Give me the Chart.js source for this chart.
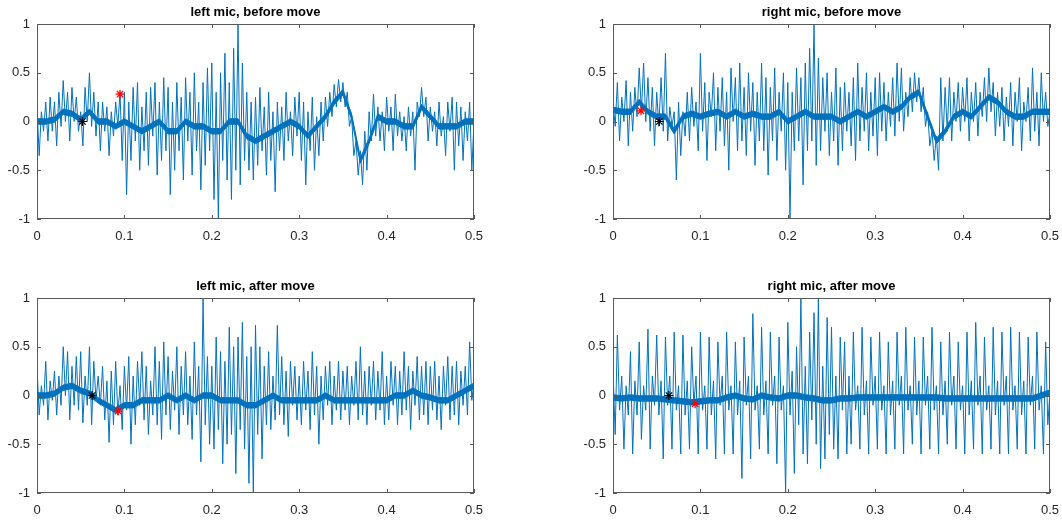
<!DOCTYPE html>
<html lang="en">
<head>
  <meta charset="UTF-8">
  <title>mic signals</title>
  <script src="https://cdn.jsdelivr.net/npm/chart.js"></script>
  <style>
    body {
      margin: 0;
      background: #fff;
      width: 1062px;
      height: 521px;
      position: relative;
      overflow: hidden;
    }
    canvas {
      position: absolute;
    }
  </style>
</head>
<body>

  <canvas id="p1" width="490" height="250" style="left:0px;top:0px"></canvas>
  <canvas id="p2" width="490" height="250" style="left:576px;top:0px"></canvas>
  <canvas id="p3" width="490" height="250" style="left:0px;top:274px"></canvas>
  <canvas id="p4" width="490" height="250" style="left:576px;top:274px"></canvas>

  <script>
    // sample spacing (s) of the signal arrays and of the core-level arrays
    const sampleStep = 0.0025;
    const coreStep = 0.01;
    const coreHalf = 0.028;

    const titles = ['left mic, before move', 'right mic, before move', 'left mic, after move', 'right mic, after move'];
    const xTickValues = [0, 0.1, 0.2, 0.3, 0.4, 0.5];
    const yTickValues = [-1, -0.5, 0, 0.5, 1];

    // [time, value] of the markers
    const blackStars = [[0.052, 0], [0.053, 0], [0.063, 0], [0.064, 0]];
    const redStars = [[0.095, 0.28], [0.032, 0.11], [0.093, -0.16], [0.094, -0.085]];

    const leftBefore = [
      0.15, -0.35, 0.1, -0.1, 0.2, -0.2, 0.25, -0.1, 0.2, -0.25,
      0.3, -0.05, 0.42, 0.0, 0.3, -0.2, 0.35, 0.0, 0.25, -0.1,
      0.1, -0.25, 0.35, 0.0, 0.5, -0.05, 0.3, -0.15, 0.2, -0.3,
      0.2, -0.1, 0.15, -0.35, 0.1, -0.15, 0.2, -0.05, 0.3, -0.4,
      0.3, -0.75, 0.2, -0.4, 0.35, -0.2, 0.4, -0.5, 0.15, -0.3,
      0.3, -0.45, 0.35, -0.15, 0.4, -0.55, 0.2, -0.4, 0.45, -0.3,
      0.35, -0.75, 0.2, -0.5, 0.4, -0.3, 0.25, -0.6, 0.45, -0.2,
      0.3, -0.55, 0.5, -0.3, 0.2, -0.7, 0.4, -0.45, 0.55, -0.3,
      0.6, -0.8, 0.3, -1.0, 0.5, -0.4, 0.7, -0.6, 0.4, -0.8,
      0.75, -0.5, 1.0, -0.65, 0.6, -0.4, 0.3, -0.5, 0.2, -0.6,
      0.25, -0.45, 0.35, -0.3, 0.15, -0.55, 0.3, -0.4, 0.1, -0.72,
      0.2, -0.3, 0.15, -0.4, 0.3, -0.2, 0.1, -0.35, 0.25, -0.15,
      0.3, -0.4, 0.2, -0.65, 0.1, -0.3, 0.25, -0.5, 0.05, -0.35,
      0.2, -0.2, 0.25, -0.05, 0.3, 0.05, 0.38, 0.15, 0.43, 0.2,
      0.4, 0.15, 0.3, -0.05, 0.05, -0.35, -0.2, -0.55, -0.3, -0.65,
      -0.1, -0.5, 0.1, -0.2, 0.28, -0.15, 0.15, -0.2, 0.1, -0.3,
      0.25, -0.1, 0.15, -0.3, 0.28, -0.15, 0.1, -0.2, 0.05, -0.3,
      0.15, -0.15, 0.1, -0.5, 0.2, 0.05, 0.35, 0.05, 0.25, -0.2,
      0.15, -0.1, 0.1, -0.25, 0.2, -0.15, 0.05, -0.35, 0.2, -0.1,
      0.25, -0.5, 0.2, -0.25, 0.15, -0.4, 0.1, -0.2, 0.2, -0.5,
      0.0
    ];
    const rightBefore = [
      0.2, -0.05, 0.4, -0.2, 0.25, 0.0, 0.42, -0.25, 0.3, -0.1,
      0.35, 0.05, 0.55, 0.1, 0.6, 0.0, 0.45, -0.1, 0.35, -0.25,
      0.3, -0.05, 0.45, -0.1, 0.7, -0.2, 0.15, -0.05, 0.1, -0.6,
      0.2, -0.35, 0.1, -0.15, 0.3, -0.2, 0.35, -0.05, 0.2, -0.3,
      0.7, -0.1, 0.4, -0.4, 0.3, 0.05, 0.5, -0.3, 0.35, -0.1,
      0.45, -0.25, 0.3, -0.5, 0.55, 0.0, 0.45, -0.3, 0.6, -0.2,
      0.35, -0.35, 0.5, -0.1, 0.4, -0.45, 0.3, -0.2, 0.6, -0.3,
      0.45, -0.55, 0.35, -0.2, 0.55, -0.4, 0.3, -0.1, 0.5, -0.5,
      0.4, -1.0, 0.3, -0.3, 0.55, -0.2, 0.45, -0.65, 0.6, -0.3,
      0.75, -0.2, 1.0, -0.45, 0.65, -0.3, 0.45, -0.1, 0.5, -0.35,
      0.3, -0.2, 0.55, -0.45, 0.35, -0.3, 0.4, -0.1, 0.3, -0.25,
      0.45, -0.4, 0.6, -0.2, 0.35, -0.1, 0.5, -0.3, 0.3, -0.15,
      0.45, -0.35, 0.5, -0.1, 0.4, -0.2, 0.3, -0.05, 0.45, -0.15,
      0.6, 0.0, 0.55, -0.1, 0.3, 0.05, 0.45, 0.1, 0.5, 0.2,
      0.45, 0.1, 0.35, -0.05, 0.1, -0.25, -0.1, -0.4, -0.15, -0.5,
      0.45, -0.2, 0.35, -0.1, 0.45, -0.2, 0.3, 0.0, 0.4, -0.1,
      0.35, 0.0, 0.45, -0.2, 0.3, 0.0, 0.4, -0.15, 0.3, 0.05,
      0.45, 0.0, 0.55, 0.1, 0.4, -0.15, 0.3, -0.05, 0.35, -0.2,
      0.25, -0.05, 0.4, -0.25, 0.3, 0.0, 0.45, -0.3, 0.2, 0.0,
      0.35, -0.2, 0.55, -0.1, 0.3, -0.25, 0.5, 0.0, 0.3, -0.05,
      0.1
    ];
    const leftAfter = [
      0.3, -0.2, 0.1, -0.1, 0.35, -0.25, 0.15, -0.05, 0.25, -0.2,
      0.2, -0.1, 0.5, 0.0, 0.45, -0.25, 0.3, -0.1, 0.4, -0.15,
      0.45, -0.28, 0.2, -0.1, 0.5, -0.3, 0.35, -0.05, 0.2, -0.1,
      0.3, -0.25, 0.15, -0.48, 0.25, -0.3, 0.35, -0.2, 0.1, -0.35,
      0.3, -0.15, 0.4, -0.5, 0.2, -0.3, 0.35, -0.1, 0.45, -0.25,
      0.3, -0.4, 0.15, -0.2, 0.5, -0.3, 0.35, -0.45, 0.55, -0.2,
      0.4, -0.35, 0.25, -0.15, 0.5, -0.4, 0.3, -0.2, 0.45, -0.3,
      0.2, -0.45, 0.55, -0.2, 0.3, -0.68, 1.0, -0.3, 0.4, -0.5,
      0.3, -0.55, 0.6, -0.35, 0.45, -0.7, 0.35, -0.5, 0.7, -0.4,
      0.5, -0.8, 0.6, -0.35, 0.75, -0.55, 0.4, -0.9, 0.5, -1.0,
      0.72, -0.4, 0.5, -0.65, 0.3, -0.3, 0.45, -0.35, 0.2, -0.25,
      0.72, -0.2, 0.4, -0.3, 0.25, -0.42, 0.35, -0.1, 0.3, -0.25,
      0.2, -0.3, 0.35, -0.15, 0.25, -0.35, 0.45, -0.2, 0.3, -0.5,
      0.2, -0.25, 0.3, -0.1, 0.35, -0.3, 0.2, -0.15, 0.35, -0.25,
      0.25, -0.15, 0.3, -0.3, 0.2, -0.1, 0.35, -0.25, 0.5, -0.2,
      0.25, -0.3, 0.3, -0.1, 0.35, -0.25, 0.25, -0.15, 0.45, -0.3,
      0.2, -0.25, 0.35, -0.1, 0.3, -0.3, 0.25, -0.2, 0.45, -0.15,
      0.3, -0.35, 0.25, -0.1, 0.4, -0.25, 0.3, -0.2, 0.35, -0.3,
      0.3, -0.15, 0.35, -0.25, 0.2, -0.35, 0.3, -0.1, 0.4, -0.25,
      0.3, -0.2, 0.35, -0.3, 0.25, -0.1, 0.3, -0.2, 0.55, -0.05,
      0.15
    ];
    const rightAfter = [
      0.25, -0.4, 0.62, -0.15, 0.2, -0.55, 0.1, -0.2, 0.45, -0.6,
      0.15, -0.2, 0.55, -0.45, 0.1, -0.15, 0.68, -0.55, 0.2, -0.1,
      0.62, -0.2, 0.15, -0.65, 0.6, -0.1, 0.2, -0.55, 0.65, -0.15,
      0.1, -0.6, 0.62, -0.2, 0.15, -0.55, 0.5, -0.1, 0.2, -0.6,
      0.65, -0.15, 0.1, -0.55, 0.6, -0.2, 0.15, -0.65, 0.55, -0.1,
      0.2, -0.6, 0.65, -0.15, 0.1, -0.6, 0.55, -0.2, 0.15, -0.85,
      0.6, -0.1, 0.2, -0.65, 0.84, -0.15, 0.1, -0.55, 0.7, -0.2,
      0.15, -0.6, 0.65, -0.1, 0.2, -0.7, 0.6, -0.15, 0.1, -1.0,
      0.75, -0.2, 0.25, -0.8, 0.5, -0.3, 1.0, -0.6, 0.3, -0.7,
      0.65, -0.25, 0.85, -0.5, 1.0, -0.75, 0.3, -0.65, 0.8, -0.4,
      0.7, -0.55, 0.2, -0.65, 0.6, -0.15, 0.55, -0.6, 0.2, -0.5,
      0.65, -0.15, 0.1, -0.55, 0.7, -0.2, 0.15, -0.6, 0.6, -0.1,
      0.2, -0.55, 0.65, -0.15, 0.1, -0.6, 0.55, -0.2, 0.15, -0.55,
      0.65, -0.1, 0.2, -0.6, 0.7, -0.15, 0.1, -0.5, 0.6, -0.2,
      0.15, -0.6, 0.6, -0.1, 0.2, -0.55, 0.7, -0.15, 0.1, -0.6,
      0.55, -0.2, 0.15, -0.5, 0.65, -0.1, 0.2, -0.55, 0.55, -0.15,
      0.1, -0.6, 0.65, -0.2, 0.15, -0.55, 0.75, -0.1, 0.2, -0.6,
      0.6, -0.15, 0.1, -0.55, 0.7, -0.2, 0.15, -0.6, 0.65, -0.1,
      0.2, -0.6, 0.7, -0.15, 0.1, -0.55, 0.65, -0.2, 0.15, -0.6,
      0.6, -0.1, 0.2, -0.55, 0.65, -0.15, 0.1, -0.6, 0.55, -0.3,
      0.05
    ];

    // slowly varying centre level of the dense core band, one value per 0.01 s
    const leftBeforeCore = [
      0, 0, 0.02, 0.1, 0.08, 0.02, 0.1, 0, 0, -0.05,
      0, -0.05, -0.1, -0.05, 0, -0.1, -0.1, 0, -0.05, -0.05,
      -0.1, -0.1, 0, 0, -0.15, -0.2, -0.15, -0.1, -0.05, 0,
      -0.05, -0.15, -0.05, 0.05, 0.2, 0.3, 0.05, -0.4, -0.2, 0.05,
      0, 0, -0.05, -0.05, 0.15, 0.05, -0.05, -0.05, -0.05, 0,
      0
    ];
    const rightBeforeCore = [
      0.12, 0.1, 0.1, 0.2, 0.1, 0.05, 0.05, -0.1, 0.05, 0.08,
      0.05, 0.08, 0.1, 0.05, 0.1, 0.05, 0.08, 0.05, 0.05, 0.1,
      0, 0.05, 0.1, 0.05, 0.05, 0.05, 0, 0.05, 0.1, 0.05,
      0.1, 0.15, 0.1, 0.15, 0.25, 0.3, 0.05, -0.2, -0.1, 0.05,
      0.1, 0.05, 0.15, 0.25, 0.2, 0.1, 0.05, 0.05, 0.1, 0.1,
      0.1
    ];
    const leftAfterCore = [
      0, 0, 0.02, 0.08, 0.1, 0.05, 0.02, -0.05, -0.1, -0.15,
      -0.1, -0.1, -0.05, -0.05, -0.05, 0, -0.05, 0, -0.05, 0,
      0, -0.05, -0.05, -0.05, -0.1, -0.1, -0.05, 0, -0.05, -0.05,
      -0.05, -0.05, -0.05, 0, -0.05, -0.05, -0.05, -0.05, -0.05, -0.05,
      -0.05, 0, 0, 0.05, 0, -0.02, -0.05, -0.05, 0, 0.05,
      0.1
    ];
    const rightAfterCore = [
      -0.02, -0.03, -0.02, -0.03, -0.03, -0.03, -0.04, -0.05, -0.06, -0.07,
      -0.06, -0.05, -0.05, -0.02, 0, -0.03, -0.04, 0, -0.02, -0.03,
      0, 0, -0.02, -0.03, -0.05, -0.05, -0.03, -0.03, -0.02, -0.02,
      -0.02, -0.02, -0.02, -0.02, -0.02, -0.02, -0.02, -0.02, -0.03, -0.03,
      -0.03, -0.03, -0.03, -0.03, -0.03, -0.03, -0.03, -0.03, -0.03, 0,
      0.03
    ];

    const signals = [leftBefore, rightBefore, leftAfter, rightAfter];
    const cores = [leftBeforeCore, rightBeforeCore, leftAfterCore, rightAfterCore];

    const lineBlue = '#0072BD';
    const axisColor = '#262626';
    const fonte = '"Liberation Sans", Arial, sans-serif';

    // matlab style box: frame, inward ticks on all four sides, bold title
    const matlabAxes = {
      id: 'matlabAxes',
      afterDraw(chart, args, opts) {
        const { ctx, chartArea: a, scales: { x, y } } = chart;
        ctx.save();
        ctx.strokeStyle = '#5a5a5a';
        ctx.lineWidth = 1;
        ctx.strokeRect(Math.round(a.left) + 0.5, Math.round(a.top) + 0.5,
          Math.round(a.width) - 1, Math.round(a.height) - 1);
        ctx.beginPath();
        x.ticks.forEach(t => {
          const px = Math.round(x.getPixelForValue(t.value)) + 0.5;
          ctx.moveTo(px, a.bottom); ctx.lineTo(px, a.bottom - 4);
          ctx.moveTo(px, a.top); ctx.lineTo(px, a.top + 4);
        });
        y.ticks.forEach(t => {
          const py = Math.round(y.getPixelForValue(t.value)) + 0.5;
          ctx.moveTo(a.left, py); ctx.lineTo(a.left + 4, py);
          ctx.moveTo(a.right, py); ctx.lineTo(a.right - 4, py);
        });
        ctx.stroke();
        ctx.fillStyle = '#000';
        ctx.font = 'bold 13px ' + fonte;
        ctx.textAlign = 'center';
        ctx.textBaseline = 'alphabetic';
        ctx.fillText(opts.text, (a.left + a.right) / 2, a.top - 8.5);
        ctx.restore();
      }
    };

    function desenharPainel(id, k) {
      const sinal = signals[k].map((v, i) => ({ x: i * sampleStep, y: v }));
      const nucleoAlto = cores[k].map((v, i) => ({ x: i * coreStep, y: v + coreHalf }));
      const nucleoBaixo = cores[k].map((v, i) => ({ x: i * coreStep, y: v - coreHalf }));

      new Chart(document.getElementById(id), {
        type: 'line',
        data: {
          datasets: [
            { data: [{ x: redStars[k][0], y: redStars[k][1] }], showLine: false, pointStyle: 'star',
              pointRadius: 4.5, borderColor: '#ff0000', borderWidth: 1.2, backgroundColor: '#ff0000' },
            { data: [{ x: blackStars[k][0], y: blackStars[k][1] }], showLine: false, pointStyle: 'star',
              pointRadius: 4.5, borderColor: '#000', borderWidth: 1.2, backgroundColor: '#000' },
            { data: sinal, borderColor: lineBlue, borderWidth: 1, pointRadius: 0, tension: 0 },
            { data: nucleoAlto, borderColor: lineBlue, borderWidth: 1, pointRadius: 0, tension: 0 },
            { data: nucleoBaixo, borderColor: lineBlue, borderWidth: 1, pointRadius: 0, tension: 0,
              fill: '-1', backgroundColor: lineBlue }
          ]
        },
        options: {
          responsive: false,
          animation: false,
          events: [],
          layout: { padding: { top: 24, left: 7, right: 16, bottom: 0 } },
          plugins: {
            legend: { display: false },
            tooltip: { enabled: false },
            matlabAxes: { text: titles[k] }
          },
          scales: {
            x: {
              type: 'linear', min: 0, max: 0.5,
              grid: { display: false, drawTicks: false },
              border: { display: false },
              afterBuildTicks: s => { s.ticks = xTickValues.map(v => ({ value: v })); },
              afterFit: s => { s.height = 31; s.paddingLeft = 0; s.paddingRight = 0; },
              ticks: {
                padding: 10, maxRotation: 0, autoSkip: false,
                color: axisColor,
                font: { family: fonte, size: 13 },
                callback: v => String(v)
              }
            },
            y: {
              min: -1, max: 1,
              grid: { display: false, drawTicks: false },
              border: { display: false },
              afterBuildTicks: s => { s.ticks = yTickValues.map(v => ({ value: v })); },
              afterFit: s => { s.width = 30; },
              ticks: {
                padding: 7,
                color: axisColor,
                font: { family: fonte, size: 13 },
                callback: v => String(v)
              }
            }
          }
        },
        plugins: [matlabAxes]
      });
    }

    ['p1', 'p2', 'p3', 'p4'].forEach((id, k) => desenharPainel(id, k));
  </script>
</body>
</html>
